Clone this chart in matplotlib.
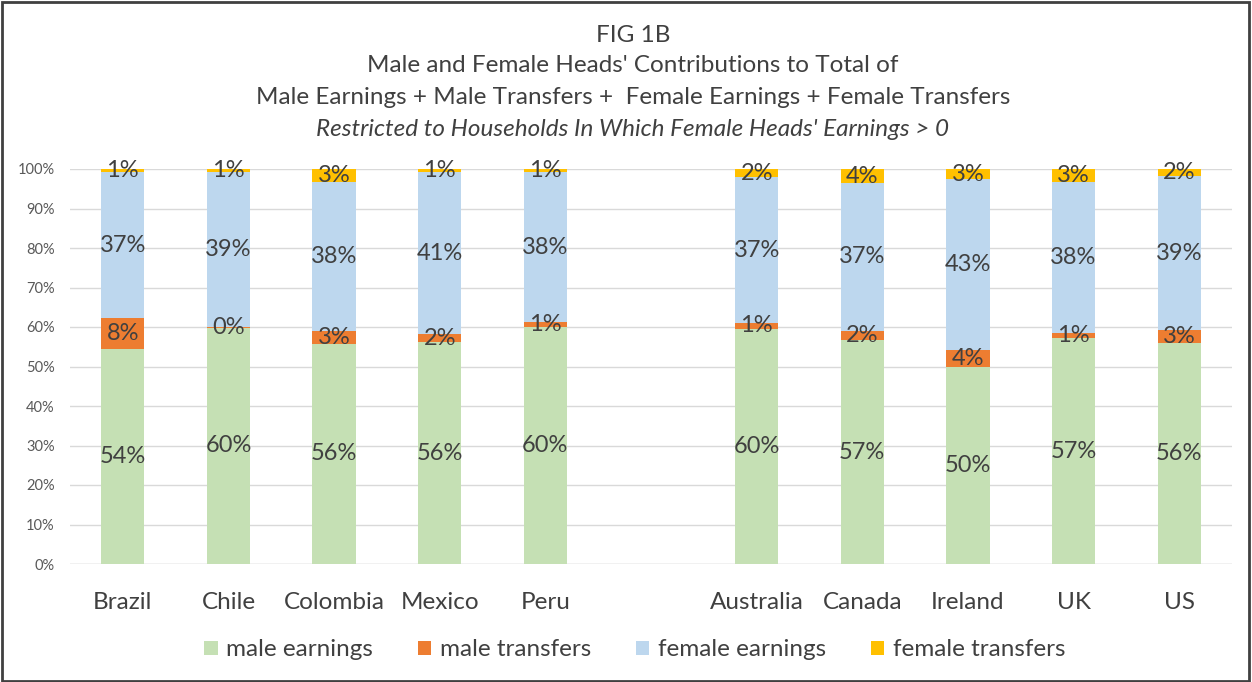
import numpy as np
import matplotlib
matplotlib.use('Agg')
import matplotlib.pyplot as plt
from matplotlib.patches import Rectangle

plt.rcParams['font.family'] = ['Lato', 'DejaVu Sans']

countries = ['Brazil', 'Chile', 'Colombia', 'Mexico', 'Peru',
             'Australia', 'Canada', 'Ireland', 'UK', 'US']
# slot index for each country (an empty slot between the two groups)
slots = [0, 1, 2, 3, 4, 6, 7, 8, 9, 10]

male_earnings = [54.4, 59.8, 55.7, 56.2, 60.0, 59.6, 56.7, 49.9, 57.2, 56.0]
male_transfers = [7.9, 0.3, 3.2, 2.0, 1.3, 1.4, 2.4, 4.3, 1.3, 3.2]
female_earnings = [36.9, 39.1, 37.7, 41.0, 37.9, 36.9, 37.3, 43.2, 38.2, 39.0]
female_transfers = [0.8, 0.8, 3.4, 0.8, 0.8, 2.1, 3.6, 2.6, 3.3, 1.8]

series = [('male earnings', male_earnings, '#C5E0B4'),
          ('male transfers', male_transfers, '#ED7D31'),
          ('female earnings', female_earnings, '#BDD7EE'),
          ('female transfers', female_transfers, '#FFC000')]

text_col = '#404040'

fig = plt.figure(figsize=(12.52, 6.82), dpi=100)
ax = fig.add_axes([70 / 1252, 118 / 682, 1162 / 1252, 395 / 682])

bottom = np.zeros(len(countries))
for name, vals, col in series:
    vals = np.array(vals)
    ax.bar(slots, vals, width=0.41, bottom=bottom, color=col, label=name, zorder=2)
    for x, b, v in zip(slots, bottom, vals):
        ax.text(x, b + v / 2, f'{v:.0f}%', ha='center', va='center',
                fontsize=17, color=text_col, zorder=3)
    bottom += vals

ax.set_xlim(-0.5, 10.5)
ax.set_ylim(0, 100)
ax.set_yticks(np.arange(0, 101, 10))
ax.set_yticklabels([f'{t}%' for t in range(0, 101, 10)])
ax.set_xticks(slots)
ax.set_xticklabels(countries)
ax.tick_params(axis='y', length=0, pad=11, labelsize=10.5, labelcolor='#595959')
ax.tick_params(axis='x', length=0, pad=20, labelsize=17.5, labelcolor=text_col)
ax.grid(axis='y', color='#D9D9D9', linewidth=1, zorder=0)
ax.set_axisbelow(True)
for s in ax.spines.values():
    s.set_visible(False)
ax.axhline(0, color='#D9D9D9', linewidth=1, zorder=1)

title_lines = ['FIG 1B',
               "Male and Female Heads' Contributions to Total of",
               'Male Earnings + Male Transfers +  Female Earnings + Female Transfers',
               "Restricted to Households In Which Female Heads' Earnings > 0"]
title_y = [36, 65, 97, 129]
for i, (line, yy) in enumerate(zip(title_lines, title_y)):
    fig.text(0.5055, 1 - yy / 682, line, ha='center', va='center', fontsize=17.5,
             color=text_col, style='italic' if i == 3 else 'normal')

leg = fig.legend(loc='center', bbox_to_anchor=(0.507, 1 - 650 / 682), ncol=4, frameon=False,
                 fontsize=17.5, handlelength=0.55, handleheight=0.55, handletextpad=0.35,
                 columnspacing=1.85)
for t in leg.get_texts():
    t.set_color(text_col)

fig.patches.append(Rectangle((2 / 1252, 1 / 682), 1247 / 1252, 679 / 682, transform=fig.transFigure,
                             fill=False, edgecolor='#404040', linewidth=2))

fig.savefig('out.png', dpi=100)
